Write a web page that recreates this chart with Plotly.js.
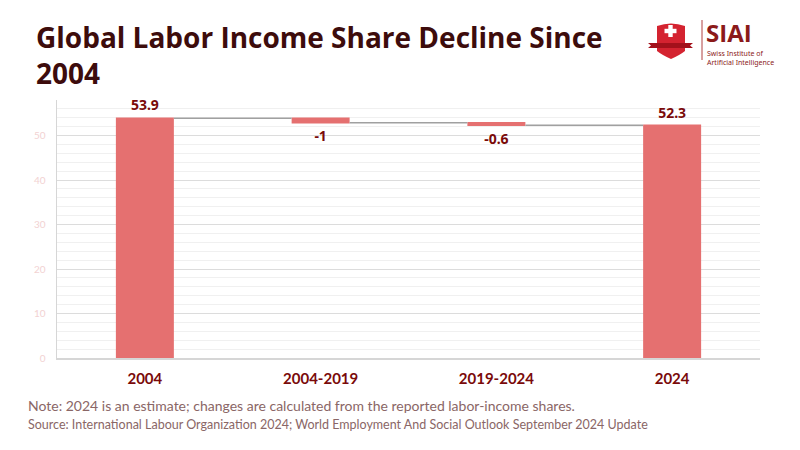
<!DOCTYPE html>
<html>
<head>
<meta charset="utf-8">
<script src="https://cdn.plot.ly/plotly-3.0.1.min.js"></script>
<style>html,body{margin:0;padding:0;background:#fff;}#chart{width:800px;height:450px;}</style>
</head>
<body>
<div id="chart"></div>
<script>
const categories = ["2004", "2004-2019", "2019-2024", "2024"];
const measures = ["absolute", "relative", "relative", "total"];
const values = [53.9, -1, -0.6, 52.3];
const valueLabels = ["53.9", "-1", "-0.6", "52.3"];

const barColor = "#e57070";
const labelColor = "#7a0a0a";

const trace = {
  type: "waterfall",
  x: categories,
  y: values,
  measure: measures,
  text: valueLabels,
  textposition: "outside",
  textfont: {family: "'Noto Sans', sans-serif", size: 14, color: labelColor, weight: "bold"},
  increasing: {marker: {color: barColor}},
  decreasing: {marker: {color: barColor}},
  totals: {marker: {color: barColor}},
  connector: {line: {color: "#a0a0a0", width: 1.5}},
  cliponaxis: false,
  hoverinfo: "x+y"
};

// pixel offsets relative to the plot's top-right corner
function px(type, opts) {
  return Object.assign({type: type, xsizemode: "pixel", ysizemode: "pixel",
    xref: "paper", yref: "paper", xanchor: 1.0, yanchor: 1.0, layer: "above"}, opts);
}

const layout = {
  width: 800, height: 450,
  margin: {l: 57, r: 40, t: 100, b: 92},
  paper_bgcolor: "#ffffff", plot_bgcolor: "#ffffff",
  showlegend: false,
  waterfallgap: 0.67,
  font: {family: "Lato, 'Noto Sans', sans-serif"},
  xaxis: {
    type: "category",
    showgrid: false,
    showline: true, linecolor: "#d6d6d6", linewidth: 1.5,
    ticks: "outside", ticklen: 6, tickcolor: "rgba(0,0,0,0)",
    tickfont: {family: "Lato, 'Noto Sans', sans-serif", size: 15, color: labelColor, weight: "bold"},
    fixedrange: true
  },
  yaxis: {
    range: [0, 58],
    dtick: 10,
    showgrid: true, gridcolor: "#dcdcdc", gridwidth: 1,
    minor: {dtick: 2, showgrid: true, gridcolor: "#f0f0f0", gridwidth: 1},
    showline: true, linecolor: "#d6d6d6", linewidth: 1.5,
    zeroline: false,
    tickfont: {family: "Lato, 'Noto Sans', sans-serif", size: 10, color: "#f2d2d2"},
    ticks: "outside", ticklen: 8, tickcolor: "rgba(0,0,0,0)",
    fixedrange: true
  },
  shapes: [
    // shield
    px("path", {path: "M -103 74 Q -89 79 -75 74 L -75 49 Q -80 45 -89 41 Q -98 45 -103 49 Z",
      fillcolor: "#d42330", line: {width: 0}}),
    // ribbon
    px("path", {path: "M -112 57 L -67 57 L -70 54.5 L -67 52 L -112 52 L -109 54.5 Z",
      fillcolor: "#a3111b", line: {width: 0}}),
    // cross
    px("rect", {x0: -89.5 - 2.2, x1: -89.5 + 2.2, y0: 63, y1: 75, fillcolor: "#ffffff", line: {width: 0}}),
    px("rect", {x0: -89.5 - 6, x1: -89.5 + 6, y0: 66.8, y1: 71.2, fillcolor: "#ffffff", line: {width: 0}}),
    // divider
    px("line", {x0: -58, x1: -58, y0: 40, y1: 80, line: {color: "#b04040", width: 1}})
  ],
  annotations: [
    {text: "<b>Global Labor Income Share Decline Since<br>2004</b>",
     xref: "paper", yref: "paper", x: 0, y: 1, xshift: -23, yshift: 84,
     xanchor: "left", yanchor: "top", align: "left", showarrow: false,
     font: {family: "'Open Sans', sans-serif", size: 28, color: "#3d0c0c"}},
    {text: "<b>SIAI</b>", xref: "paper", yref: "paper", x: 1.0, y: 1.0,
     xshift: -55, yshift: 80, xanchor: "left", yanchor: "top", showarrow: false,
     height: 22, valign: "middle", borderpad: 0,
     font: {family: "'Open Sans', sans-serif", size: 24, color: "#8b1a1a"}},
    {text: "Swiss Institute of<br>Artificial Intelligence", xref: "paper", yref: "paper",
     x: 1.0, y: 1.0, xshift: -54, yshift: 52, xanchor: "left", yanchor: "top", showarrow: false, align: "left",
     borderpad: 0,
     font: {family: "'Noto Sans', sans-serif", size: 7, color: "#8b1a1a"}},
    {text: "Note: 2024 is an estimate; changes are calculated from the reported labor-income shares.",
     xref: "paper", yref: "paper", x: 0, y: 0, xshift: -31, yshift: -47,
     xanchor: "left", yanchor: "middle", showarrow: false,
     font: {family: "Lato, sans-serif", size: 14, color: "#8a6666"}},
    {text: "Source: International Labour Organization 2024; World Employment And Social Outlook September 2024 Update",
     xref: "paper", yref: "paper", x: 0, y: 0, xshift: -31, yshift: -66,
     xanchor: "left", yanchor: "middle", showarrow: false,
     font: {family: "Lato, sans-serif", size: 12.5, color: "#8a6666"}}
  ]
};

Plotly.newPlot("chart", [trace], layout, {displayModeBar: false, staticPlot: true});
</script>
</body>
</html>
